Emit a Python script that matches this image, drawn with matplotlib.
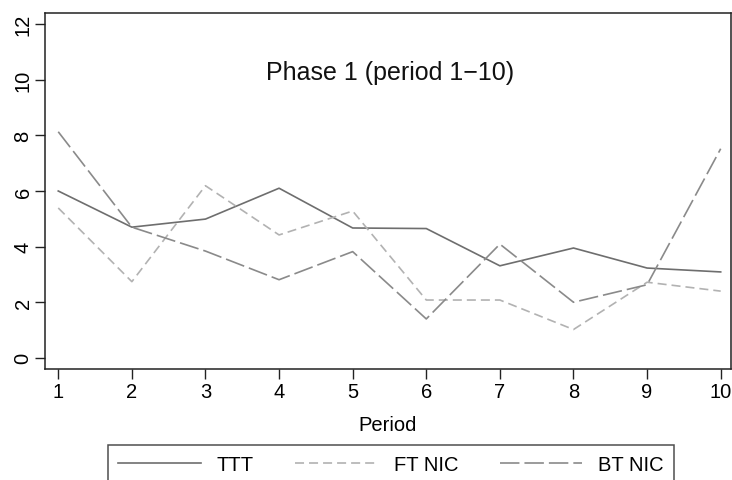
import matplotlib
matplotlib.use("Agg")
import matplotlib.pyplot as plt

plt.rcParams['font.family'] = ['Liberation Sans', 'DejaVu Sans']
plt.rcParams['lines.scale_dashes'] = False

# average values per period, phase 1
periods = [1, 2, 3, 4, 5, 6, 7, 8, 9, 10]
ttt = [6.0, 4.70, 4.99, 6.10, 4.67, 4.65, 3.31, 3.95, 3.23, 3.09]
ft_nic = [5.39, 2.74, 6.19, 4.42, 5.28, 2.08, 2.08, 1.02, 2.72, 2.40]
bt_nic = [8.13, 4.70, 3.84, 2.81, 3.82, 1.40, 4.09, 2.00, 2.63, 7.52]
yticks = [0, 2, 4, 6, 8, 10, 12]

fig = plt.figure(figsize=(7.32, 4.81), dpi=100)
ax = fig.add_axes([45/732, 1-370/481, 686/732, 356/481])

ax.plot(periods, ttt, color='#6e6e6e', lw=1.2, label='TTT')
ax.plot(periods, ft_nic, color='#b2b2b2', lw=1.2, dashes=(6.5, 3.6), label='FT NIC')
ax.plot(periods, bt_nic, color='#8a8a8a', lw=1.2, dashes=(14, 3.6), label='BT NIC')

ax.set_xlim(0.82, 10.14)
ax.set_ylim(-0.4, 12.4)
ax.set_xticks(periods)
ax.set_yticks(yticks)
ax.tick_params(axis='both', direction='out', length=7, width=1.0, labelsize=14.5, color='#222222')
ax.tick_params(axis='x', pad=2.5)
ax.tick_params(axis='y', pad=2)
for lbl in ax.get_yticklabels():
    lbl.set_rotation(90)
    lbl.set_va('center')
for sp in ax.spines.values():
    sp.set_linewidth(1.1)
    sp.set_color('#222222')

ax.text(0.503, 0.835, 'Phase 1 (period 1\u221210)', transform=ax.transAxes,
        ha='center', va='center', fontsize=18, color='#111111')
ax.set_xlabel('Period', fontsize=14.5, labelpad=10)

leg = fig.legend(loc='upper left', bbox_to_anchor=(108/732, 1-446/481), ncol=3,
                 fontsize=14.5, handlelength=4.1, handletextpad=0.8, columnspacing=2.05,
                 fancybox=False, edgecolor='#222222', borderpad=0.5, borderaxespad=0)
leg.get_frame().set_linewidth(1.1)

fig.savefig('out.png', dpi=100)
